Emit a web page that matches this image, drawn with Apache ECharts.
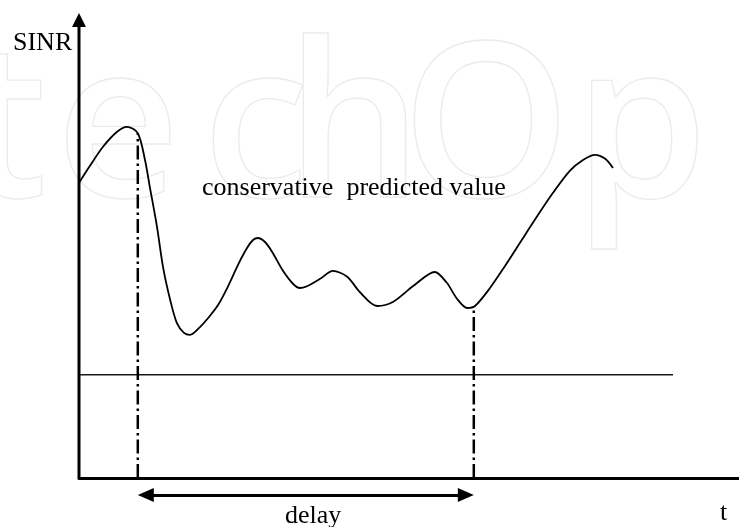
<!DOCTYPE html>
<html>
<head>
<meta charset="utf-8" />
<title>SINR delay</title>
<script src="https://cdn.jsdelivr.net/npm/echarts@6/dist/echarts.min.js"></script>
<style>
html, body { margin: 0; padding: 0; background: #ffffff; }
#main { width: 739px; height: 527px; }
</style>
</head>
<body>
<div id="main"></div>
<script type="text/javascript">
var curveT = [0, 1.8, 4, 6.3, 8, 9.8, 11, 11.8, 13, 14, 15.2, 16.3, 17.5, 18.5, 20.2, 21.8, 23.2, 24.8, 26.5,
	28, 29, 29.8, 31, 32.2, 34, 35.7, 36.8, 37.8, 40.2, 42.3, 44.7, 46.8, 49.7, 52.3, 55.7, 59.3,
	61.3, 63, 64.7, 66, 68.5, 71, 73.5, 76.3, 79, 81.8, 84, 86, 87.7, 89];
var curveSinr = [73.8, 78, 82.8, 86.5, 87.8, 86.2, 79.5, 72.8, 62.8, 52.8, 44.5, 38.8, 36.3, 35.8, 37.8, 40.5, 43.3, 47.8, 53.3,
	57.5, 59.5, 60, 59, 56.5, 51.8, 48.5, 47.5, 47.8, 49.8, 51.8, 50.3, 46.5, 43, 44, 48, 51.5,
	48.8, 44.8, 42.5, 43, 47.5, 53, 58.8, 65.3, 71.3, 76.8, 79.5, 80.8, 79.8, 77.5];

// conservative predicted value (flat level) and where it stops
var thresholdSinr = 25.8;
var thresholdEndT = 99;

// dash-dot markers: instants and curve value at each
var markT = [9.8, 65.8];
var markSinr = [86.2, 43];

var tRange = [0, 110];
var sinrRange = [-12, 120];
var sinrAxisTop = 114.5;
var delayLevel = -4.25;

var chart = echarts.init(document.getElementById('main'), null, { renderer: 'canvas' });

var serif = '26px "Liberation Serif", "Times New Roman", serif';
var black = '#000000';
// 660px of plot width for the t range; arrow heads are 16px long
var pxPerT = 660 / (tRange[1] - tRange[0]);
var arrowInset = 8 / pxPerT;

var series = [];

// y axis drawn as a series so it stops at the t axis
series.push({
	type: 'line',
	silent: true,
	clip: false,
	showSymbol: true,
	data: [
		{ value: [0, 0], symbol: 'none' },
		{ value: [0, sinrAxisTop], symbol: 'triangle', symbolSize: [14, 14] }
	],
	itemStyle: { color: black },
	lineStyle: { color: black, width: 3 },
	z: 5
});

series.push({
	type: 'line',
	silent: true,
	smooth: 0.3,
	symbol: 'none',
	data: curveT.map(function(t, i) { return [t, curveSinr[i]]; }),
	lineStyle: { color: black, width: 1.8 },
	z: 4
});

series.push({
	type: 'line',
	silent: true,
	symbol: 'none',
	data: [[0, thresholdSinr], [thresholdEndT, thresholdSinr]],
	lineStyle: { color: '#1a1a1a', width: 1.4 },
	z: 3
});

markT.forEach(function(t, i) {
	series.push({
		type: 'line',
		silent: true,
		symbol: 'none',
		data: [[t, 0], [t, markSinr[i]]],
		lineStyle: { color: black, width: 2.5, type: [14, 4, 2.5, 4] },
		z: 3
	});
});

// delay double arrow between the two marked instants
series.push({
	type: 'line',
	silent: true,
	data: [],
	markLine: {
		silent: true,
		animation: false,
		symbol: ['triangle', 'triangle'],
		symbolSize: [14, 16],
		label: { show: false },
		lineStyle: { color: black, width: 3, type: 'solid' },
		emphasis: { disabled: true },
		data: [[
			{ coord: [markT[0] + arrowInset, delayLevel] },
			{ coord: [markT[1] - arrowInset, delayLevel] }
		]]
	}
});

// faint publisher watermark behind the plot
var wmLetters = ['t', 'e', 'c', 'h', 'O', 'p', 'e'];
var wmX = [5, 118, 256, 354, 486, 641, 795];
var graphics = wmLetters.map(function(ch, i) {
	return {
		type: 'text',
		silent: true,
		z: -10,
		x: wmX[i],
		y: 136,
		style: {
			text: ch,
			font: '600 215px "Open Sans", sans-serif',
			fill: 'rgba(255,255,255,0)',
			stroke: '#ebebeb',
			lineWidth: 1.3,
			align: 'center',
			verticalAlign: 'middle'
		}
	};
});

function label(text, x, y) {
	return {
		type: 'text',
		silent: true,
		z: 100,
		x: x,
		y: y,
		style: { text: text, font: serif, fill: black, align: 'left', verticalAlign: 'middle' }
	};
}
graphics.push(label('SINR', 13, 43.2));
graphics.push(label('conservative  predicted value', 202, 188.2));
graphics.push(label('delay', 285, 516.2));
graphics.push(label('t', 720, 513.2));

chart.setOption({
	animation: false,
	backgroundColor: '#ffffff',
	grid: { left: 79, right: 0, top: -2, bottom: 1, containLabel: false, outerBoundsMode: 'none' },
	xAxis: {
		type: 'value',
		min: tRange[0],
		max: tRange[1],
		axisLine: { show: true, onZero: true, lineStyle: { color: black, width: 3 } },
		axisTick: { show: false },
		axisLabel: { show: false },
		splitLine: { show: false }
	},
	yAxis: {
		type: 'value',
		min: sinrRange[0],
		max: sinrRange[1],
		axisLine: { show: false },
		axisTick: { show: false },
		axisLabel: { show: false },
		splitLine: { show: false }
	},
	graphic: graphics,
	series: series
});
</script>
</body>
</html>
